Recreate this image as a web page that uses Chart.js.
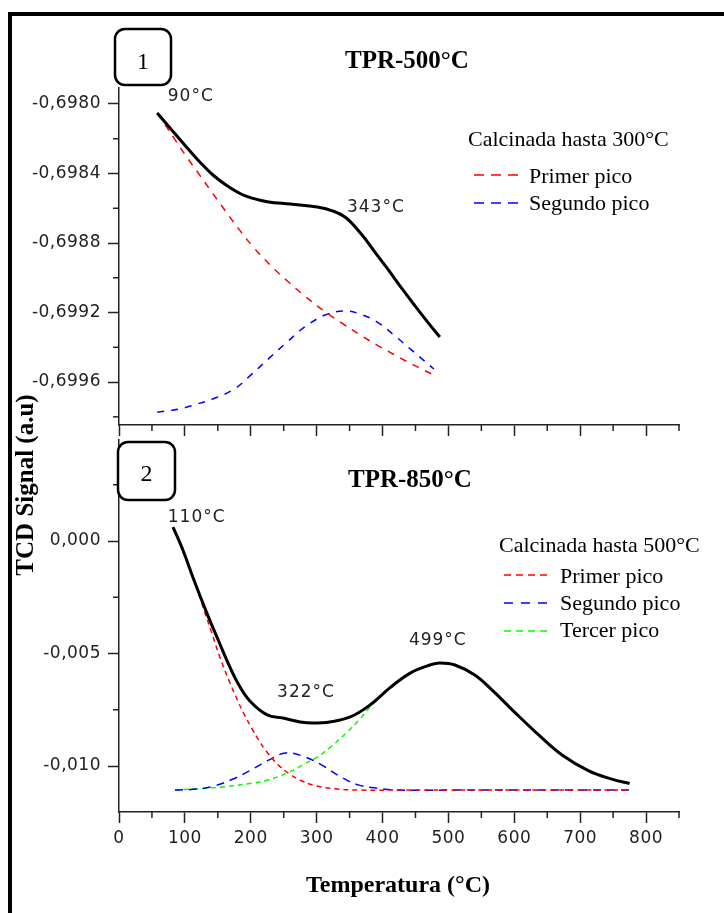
<!DOCTYPE html>
<html>
<head>
<meta charset="utf-8">
<script src="https://cdn.jsdelivr.net/npm/chart.js@4.4.0/dist/chart.umd.min.js"></script>
<style>
  body { margin: 0; background: #fff; }
  #page { position: relative; width: 724px; height: 913px; overflow: hidden; background: #fff; }
  .layer { position: absolute; left: 0; top: 0; width: 724px; height: 913px; }
  #frame { position: absolute; left: 8px; top: 12px; right: -20px; bottom: -20px;
           border-left: 4px solid #000; border-top: 4px solid #000; }
</style>
</head>
<body>
<div id="page">
  <div id="frame"></div>
  <div class="layer"><canvas id="tpr500"></canvas></div>
  <div class="layer"><canvas id="tpr850"></canvas></div>
</div>
<script>
// shared temperature axis (°C)
const tempMin = 0, tempMax = 850;
const tempTicks = [0, 100, 200, 300, 400, 500, 600, 700, 800];
const tempMinor = [50, 150, 250, 350, 450, 550, 650, 750, 850];

// panel 1 : TPR-500°C (calcinada hasta 300°C)
const p1Min = -0.699847, p1Max = -0.697908;
const p1Ticks = [-0.6996, -0.6992, -0.6988, -0.6984, -0.6980];
const p1Minor = [-0.6998, -0.6994, -0.6990, -0.6986, -0.6982];

const p1TotalT = [58, 82, 103, 123, 143, 168, 194, 225, 260, 301, 325, 345, 369, 389, 410, 429, 449, 470, 487];
const p1TotalS = [-0.698052, -0.698158, -0.698250, -0.698335, -0.698410, -0.698480, -0.698532, -0.698562, -0.698576,
                  -0.698593, -0.698616, -0.698656, -0.698754, -0.698855, -0.698960, -0.699060, -0.699160, -0.699262, -0.699341];

const p1Peak1T = [58, 70, 85, 100, 123, 138, 161, 184, 202, 229, 256, 282, 311, 340, 363, 393, 419, 446, 478];
const p1Peak1S = [-0.698052, -0.698120, -0.698205, -0.698290, -0.698412, -0.698492, -0.698613, -0.698730, -0.698815,
                  -0.698925, -0.699020, -0.699105, -0.699190, -0.699265, -0.699322, -0.699390, -0.699445, -0.699500, -0.699560];

const p1Peak2T = [58, 91, 118, 146, 175, 200, 228, 255, 282, 313, 340, 363, 392, 419, 446, 478];
const p1Peak2S = [-0.699773, -0.699755, -0.699727, -0.699692, -0.699640, -0.699560, -0.699462, -0.699370,
                  -0.699283, -0.699214, -0.699191, -0.699205, -0.699255, -0.699335, -0.699422, -0.699525];

// panel 2 : TPR-850°C (calcinada hasta 500°C)
const p2Min = -0.012044, p2Max = 0.004489;
const p2Ticks = [-0.010, -0.005, 0];
const p2Minor = [-0.0075, -0.0025, 0.0025];

const p2TotalT = [82, 97, 112, 134, 152, 167, 182, 199, 225, 249, 275, 294, 320, 351, 381, 411, 442, 472, 487, 510,
                  540, 566, 596, 637, 672, 713, 748, 775];
const p2TotalS = [0.00062, -0.00040, -0.00160, -0.00325, -0.00450, -0.00552, -0.00640, -0.00712, -0.00773, -0.00787,
                  -0.00804, -0.00809, -0.00804, -0.00782, -0.00729, -0.00653, -0.00587, -0.00551, -0.00542, -0.00551,
                  -0.00596, -0.00662, -0.00748, -0.00862, -0.00950, -0.01022, -0.01058, -0.01078];

const p2Peak1T = [82, 100, 115, 126, 141, 153, 168, 181, 190, 202, 212, 223, 241, 260, 273, 297, 328, 366, 420, 500,
                  600, 700, 775];
const p2Peak1S = [0.00062, -0.00070, -0.00185, -0.00280, -0.00410, -0.00515, -0.00628, -0.00715, -0.00770, -0.00835,
                  -0.00885, -0.00932, -0.00993, -0.01038, -0.01060, -0.01087, -0.01101, -0.01107, -0.01107, -0.01107,
                  -0.01107, -0.01107, -0.01107];

const p2Peak2T = [85, 120, 144, 173, 200, 228, 253, 279, 308, 337, 363, 390, 426, 500, 600, 700, 775];
const p2Peak2S = [-0.01107, -0.01102, -0.01089, -0.01058, -0.01018, -0.00973, -0.00942, -0.00956, -0.00996,
                  -0.01049, -0.01084, -0.01098, -0.01107, -0.01107, -0.01107, -0.01107, -0.01107];

const p2Peak3T = [85, 115, 158, 202, 226, 256, 278, 301, 323, 345, 364, 384, 404, 419];
const p2Peak3S = [-0.01107, -0.01102, -0.01093, -0.01076, -0.01062, -0.01031, -0.00996, -0.00960, -0.00911,
                  -0.00853, -0.00796, -0.00729, -0.00671, -0.00631];

// peak labels (anchored in data units)
const p1Notes = [{ text: '90°C', t: 74, s: -0.697983 }, { text: '343°C', t: 346, s: -0.698622 }];
const p2Notes = [{ text: '110°C', t: 74, s: 0.000844 }, { text: '322°C', t: 240, s: -0.006933 },
                 { text: '499°C', t: 440, s: -0.004622 }];

const pts = (xs, ys) => xs.map((x, i) => ({ x: x, y: ys[i] }));

const serif = '"Liberation Serif", "Times New Roman", serif';
const sans = '"DejaVu Sans", sans-serif';

Chart.defaults.font.family = sans;
Chart.defaults.font.size = 17;
Chart.defaults.color = '#222';

const minorTicks = {
  id: 'minorTicks',
  beforeDraw(chart) {
    chart.ctx.letterSpacing = '0.5px';
  },
  afterDraw(chart, args, opts) {
    const ctx = chart.ctx, area = chart.chartArea;
    ctx.save();
    ctx.strokeStyle = '#222';
    ctx.lineWidth = 1.5;
    opts.x.forEach(v => {
      const px = chart.scales.x.getPixelForValue(v);
      ctx.beginPath(); ctx.moveTo(px, area.bottom); ctx.lineTo(px, area.bottom + 6); ctx.stroke();
    });
    opts.y.forEach(v => {
      const py = chart.scales.y.getPixelForValue(v);
      ctx.beginPath(); ctx.moveTo(area.left - 6, py); ctx.lineTo(area.left, py); ctx.stroke();
    });
    ctx.restore();
  }
};

const deco = {
  id: 'deco',
  afterDraw(chart, args, o) {
    const ctx = chart.ctx;
    ctx.save();
    ctx.textBaseline = 'alphabetic';

    // peak labels
    ctx.letterSpacing = '1px';
    ctx.font = '17px ' + sans;
    ctx.fillStyle = '#222';
    ctx.textAlign = 'left';
    o.notes.forEach(n => {
      ctx.fillText(n.text, chart.scales.x.getPixelForValue(n.t), chart.scales.y.getPixelForValue(n.s));
    });
    ctx.letterSpacing = '0px';

    // numbered box
    const b = o.box;
    ctx.fillStyle = '#fff';
    ctx.strokeStyle = '#000';
    ctx.lineWidth = 2.5;
    ctx.beginPath();
    ctx.roundRect(b.x, b.y, b.w, b.h, 10);
    ctx.fill();
    ctx.stroke();
    ctx.fillStyle = '#000';
    ctx.font = '24px ' + serif;
    ctx.textAlign = 'center';
    ctx.fillText(b.label, b.x + b.w / 2, b.base);

    // panel title
    ctx.font = 'bold 25px ' + serif;
    ctx.textAlign = 'left';
    ctx.fillText(o.title.text, o.title.x, o.title.y);

    // legend
    const lg = o.legend;
    ctx.font = '22px ' + serif;
    ctx.fillText(lg.heading, lg.hx, lg.hy);
    chart.data.datasets.slice(1).forEach((ds, i) => {
      ctx.fillStyle = '#000';
      ctx.fillText(ds.label, lg.tx, lg.rows[i].base);
      ctx.strokeStyle = ds.borderColor;
      ctx.lineWidth = 1.5;
      ctx.setLineDash(lg.dash[i]);
      ctx.beginPath();
      ctx.moveTo(lg.lx1, lg.rows[i].line);
      ctx.lineTo(lg.lx2, lg.rows[i].line);
      ctx.stroke();
      ctx.setLineDash([]);
    });

    // shared axis titles (drawn once, on the lower panel)
    if (o.axisTitles) {
      ctx.fillStyle = '#000';
      ctx.font = 'bold 24px ' + serif;
      ctx.textAlign = 'center';
      ctx.fillText('Temperatura (°C)', 398, 892);
      ctx.translate(33, 485);
      ctx.rotate(-Math.PI / 2);
      ctx.font = 'bold 25px ' + serif;
      ctx.fillText('TCD Signal (a.u)', 0, 0);
    }
    ctx.restore();
  }
};

function curve(label, color, xs, ys, width, dash) {
  return {
    label: label, data: pts(xs, ys), borderColor: color, borderWidth: width,
    borderDash: dash, pointRadius: 0, tension: 0.4, fill: false
  };
}

function makePanel(id, cfg) {
  return new Chart(document.getElementById(id), {
    type: 'line',
    data: { datasets: cfg.datasets },
    options: {
      responsive: true,
      maintainAspectRatio: false,
      devicePixelRatio: 1,
      animation: false,
      events: [],
      layout: { padding: cfg.padding },
      plugins: {
        legend: { display: false },
        tooltip: { enabled: false },
        minorTicks: { x: tempMinor, y: cfg.minor },
        deco: cfg.deco
      },
      scales: {
        x: {
          type: 'linear', min: tempMin, max: tempMax,
          afterBuildTicks: s => { s.ticks = tempTicks.map(v => ({ value: v })); },
          afterFit: s => { s.height = cfg.xHeight; },
          ticks: { display: cfg.xLabels, padding: 5, maxRotation: 0 },
          grid: { drawOnChartArea: false, drawTicks: true, tickLength: 11, tickColor: '#222', tickWidth: 1.5 },
          border: { display: true, color: '#222', width: 1.5 }
        },
        y: {
          type: 'linear', min: cfg.yMin, max: cfg.yMax,
          afterBuildTicks: s => { s.ticks = cfg.ticks.map(v => ({ value: v })); },
          afterFit: s => { s.width = 119; },
          ticks: { padding: 7, callback: v => v.toFixed(cfg.digits).replace('.', ',') },
          grid: { drawOnChartArea: false, drawTicks: true, tickLength: 11, tickColor: '#222', tickWidth: 1.5 },
          border: { display: true, color: '#222', width: 1.5 }
        }
      }
    },
    plugins: [minorTicks, deco]
  });
}

makePanel('tpr500', {
  padding: { left: 0, top: 88, right: 45, bottom: 474 },
  xHeight: 14, xLabels: false,
  yMin: p1Min, yMax: p1Max, ticks: p1Ticks, minor: p1Minor, digits: 4,
  datasets: [
    curve('Total', '#000', p1TotalT, p1TotalS, 3, []),
    curve('Primer pico', '#ff0000', p1Peak1T, p1Peak1S, 1.5, [7, 7]),
    curve('Segundo pico', '#0000ff', p1Peak2T, p1Peak2S, 1.5, [7, 7])
  ],
  deco: {
    notes: p1Notes,
    box: { x: 115, y: 29, w: 56, h: 56, label: '1', base: 69 },
    title: { text: 'TPR-500°C', x: 345, y: 68 },
    legend: { heading: 'Calcinada hasta 300°C', hx: 468, hy: 146, tx: 529, lx1: 474, lx2: 519,
              rows: [{ base: 183, line: 175 }, { base: 210, line: 203 }],
              dash: [[10, 7], [10, 7]] }
  }
});

makePanel('tpr850', {
  padding: { left: 0, top: 440, right: 45, bottom: 61 },
  xHeight: 40, xLabels: true,
  yMin: p2Min, yMax: p2Max, ticks: p2Ticks, minor: p2Minor, digits: 3,
  datasets: [
    curve('Total', '#000', p2TotalT, p2TotalS, 3, []),
    curve('Primer pico', '#ff0000', p2Peak1T, p2Peak1S, 1.5, [5, 4]),
    curve('Segundo pico', '#0000ff', p2Peak2T, p2Peak2S, 1.5, [8, 6]),
    curve('Tercer pico', '#00ff00', p2Peak3T, p2Peak3S, 1.5, [5, 4])
  ],
  deco: {
    notes: p2Notes,
    box: { x: 118, y: 442, w: 57, h: 58, label: '2', base: 481 },
    title: { text: 'TPR-850°C', x: 348, y: 487 },
    legend: { heading: 'Calcinada hasta 500°C', hx: 499, hy: 552, tx: 560, lx1: 504, lx2: 548,
              rows: [{ base: 583, line: 575 }, { base: 610, line: 603 }, { base: 637, line: 631 }],
              dash: [[7, 5], [9, 8], [7, 5]] },
    axisTitles: true
  }
});
</script>
</body>
</html>
